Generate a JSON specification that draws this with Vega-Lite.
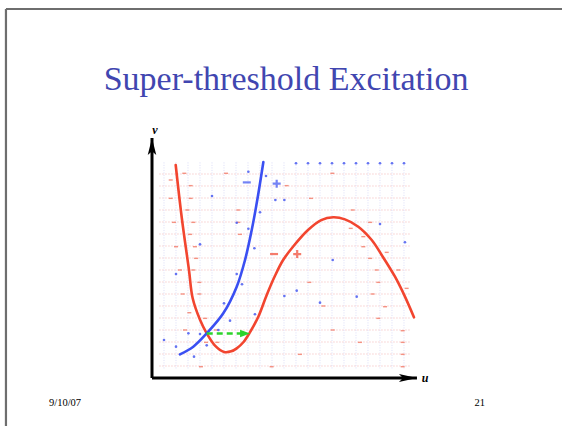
{
  "$schema": "https://vega.github.io/schema/vega-lite/v6.json",
  "width": 562,
  "height": 426,
  "autosize": {"type": "none"},
  "padding": 0,
  "background": "white",
  "config": {"view": {"stroke": null}},
  "datasets": {
    "frame": [
      {"u": -12.17, "v": 30.75, "u2": 34.1667, "v2": 30.75},
      {"u": -12.17, "v": 30.75, "u2": -12.17, "v2": -4}
    ],
    "hgrid": [
      {"v": 1, "u": 0.6, "u2": 21.6}, {"v": 2, "u": 0.6, "u2": 21.6}, {"v": 3, "u": 0.6, "u2": 21.6},
      {"v": 4, "u": 0.6, "u2": 21.6}, {"v": 5, "u": 0.6, "u2": 21.6}, {"v": 6, "u": 0.6, "u2": 21.6},
      {"v": 7, "u": 0.6, "u2": 21.6}, {"v": 8, "u": 0.6, "u2": 21.6}, {"v": 9, "u": 0.6, "u2": 21.6},
      {"v": 10, "u": 0.6, "u2": 21.6}, {"v": 11, "u": 0.6, "u2": 21.6}, {"v": 12, "u": 0.6, "u2": 21.6},
      {"v": 13, "u": 0.6, "u2": 21.6}, {"v": 14, "u": 0.6, "u2": 21.6}, {"v": 15, "u": 0.6, "u2": 21.6},
      {"v": 16, "u": 0.6, "u2": 21.6}, {"v": 17, "u": 0.6, "u2": 21.6}
    ],
    "vgrid": [
      {"u": 1, "v": 0.8, "v2": 18}, {"u": 2, "v": 0.8, "v2": 18}, {"u": 3, "v": 0.8, "v2": 18},
      {"u": 4, "v": 0.8, "v2": 18}, {"u": 5, "v": 0.8, "v2": 18}, {"u": 6, "v": 0.8, "v2": 18},
      {"u": 7, "v": 0.8, "v2": 18}, {"u": 8, "v": 0.8, "v2": 18}, {"u": 9, "v": 0.8, "v2": 18},
      {"u": 10, "v": 0.8, "v2": 18}, {"u": 11, "v": 0.8, "v2": 18}, {"u": 12, "v": 0.8, "v2": 18},
      {"u": 13, "v": 0.8, "v2": 18}, {"u": 14, "v": 0.8, "v2": 18}, {"u": 15, "v": 0.8, "v2": 18},
      {"u": 16, "v": 0.8, "v2": 18}, {"u": 17, "v": 0.8, "v2": 18}, {"u": 18, "v": 0.8, "v2": 18},
      {"u": 19, "v": 0.8, "v2": 18}, {"u": 20, "v": 0.8, "v2": 18}, {"u": 21, "v": 0.8, "v2": 18}
    ],
    "fieldU": [
      {"u": 2.69, "v": 17.06}, {"u": 6.17, "v": 17.06}, {"u": 15.03, "v": 17.06}, {"u": 1.56, "v": 16.5},
      {"u": 3.22, "v": 16.03}, {"u": 11.22, "v": 16.03}, {"u": 1.56, "v": 14.97}, {"u": 3.22, "v": 14.97},
      {"u": 13.25, "v": 14.97}, {"u": 2.94, "v": 14.0}, {"u": 7.19, "v": 14.0}, {"u": 16.72, "v": 14.0},
      {"u": 1.83, "v": 12.97}, {"u": 3.44, "v": 12.97}, {"u": 7.19, "v": 12.97}, {"u": 18.17, "v": 12.97},
      {"u": 3.17, "v": 11.97}, {"u": 7.33, "v": 11.97}, {"u": 16.56, "v": 12.47}, {"u": 2.0, "v": 10.94},
      {"u": 3.58, "v": 10.94}, {"u": 17.61, "v": 11.78}, {"u": 17.61, "v": 10.94}, {"u": 3.67, "v": 9.97},
      {"u": 18.17, "v": 9.97}, {"u": 19.56, "v": 10.47}, {"u": 2.33, "v": 9.0}, {"u": 3.44, "v": 9.0},
      {"u": 3.94, "v": 7.97}, {"u": 13.11, "v": 7.97}, {"u": 18.72, "v": 9.0}, {"u": 20.53, "v": 9.0},
      {"u": 2.56, "v": 7.0}, {"u": 3.94, "v": 7.0}, {"u": 18.39, "v": 7.0}, {"u": 18.86, "v": 7.97},
      {"u": 21.22, "v": 7.47}, {"u": 3.11, "v": 5.44}, {"u": 14.28, "v": 6.0}, {"u": 19.42, "v": 5.94},
      {"u": 18.86, "v": 4.97}, {"u": 4.42, "v": 4.97}, {"u": 15.06, "v": 4.0}, {"u": 20.89, "v": 3.94},
      {"u": 2.75, "v": 4.0}, {"u": 5.33, "v": 4.0}, {"u": 17.33, "v": 2.97}, {"u": 20.89, "v": 2.97},
      {"u": 4.5, "v": 2.97}, {"u": 12.33, "v": 1.97}, {"u": 20.89, "v": 1.97}, {"u": 4.08, "v": 0.94},
      {"u": 9.97, "v": 0.94}, {"u": 20.89, "v": 0.94}, {"u": 5.44, "v": 2.97}
    ],
    "fieldV": [
      {"u": 8.03, "v": 17.19}, {"u": 9.5, "v": 16.83}, {"u": 5.0, "v": 15.17}, {"u": 10.28, "v": 14.83},
      {"u": 11.03, "v": 14.83}, {"u": 9.0, "v": 13.81}, {"u": 7.06, "v": 12.94}, {"u": 8.03, "v": 12.44},
      {"u": 19.0, "v": 12.83}, {"u": 4.0, "v": 11.14}, {"u": 8.53, "v": 10.81}, {"u": 21.08, "v": 11.31},
      {"u": 15.06, "v": 9.83}, {"u": 2.0, "v": 8.67}, {"u": 7.06, "v": 8.67}, {"u": 7.5, "v": 7.81},
      {"u": 12.06, "v": 7.28}, {"u": 11.03, "v": 6.83}, {"u": 17.06, "v": 6.78}, {"u": 14.0, "v": 6.28},
      {"u": 6.0, "v": 6.22}, {"u": 6.5, "v": 4.78}, {"u": 8.58, "v": 5.31}, {"u": 3.03, "v": 3.72},
      {"u": 4.0, "v": 3.67}, {"u": 5.53, "v": 4.0}, {"u": 1.0, "v": 3.17}, {"u": 2.0, "v": 2.61},
      {"u": 4.56, "v": 2.72}, {"u": 3.5, "v": 1.78},
      {"u": 12, "v": 17.9}, {"u": 13, "v": 17.9}, {"u": 14, "v": 17.9}, {"u": 15, "v": 17.9},
      {"u": 16, "v": 17.9}, {"u": 17, "v": 17.9}, {"u": 18, "v": 17.9}, {"u": 19, "v": 17.9},
      {"u": 20, "v": 17.9}, {"u": 21, "v": 17.9}
    ],
    "nullclines": [
      {"curve": "cubic", "u": 1.975, "v": 17.75}, {"curve": "cubic", "u": 2.47, "v": 13.44},
      {"curve": "cubic", "u": 3.08, "v": 9.0}, {"curve": "cubic", "u": 3.39, "v": 6.64},
      {"curve": "cubic", "u": 4.0, "v": 4.85}, {"curve": "cubic", "u": 4.56, "v": 3.72},
      {"curve": "cubic", "u": 5.25, "v": 2.7}, {"curve": "cubic", "u": 6.0, "v": 2.17},
      {"curve": "cubic", "u": 6.6, "v": 2.22}, {"curve": "cubic", "u": 7.06, "v": 2.47},
      {"curve": "cubic", "u": 7.61, "v": 2.98}, {"curve": "cubic", "u": 8.11, "v": 3.72},
      {"curve": "cubic", "u": 8.86, "v": 5.11}, {"curve": "cubic", "u": 9.56, "v": 6.92},
      {"curve": "cubic", "u": 10.25, "v": 8.52}, {"curve": "cubic", "u": 10.94, "v": 9.85},
      {"curve": "cubic", "u": 11.8, "v": 11.0}, {"curve": "cubic", "u": 13.0, "v": 12.33},
      {"curve": "cubic", "u": 14.1, "v": 13.16}, {"curve": "cubic", "u": 15.11, "v": 13.39},
      {"curve": "cubic", "u": 16.08, "v": 13.22}, {"curve": "cubic", "u": 17.19, "v": 12.61},
      {"curve": "cubic", "u": 18.31, "v": 11.5}, {"curve": "cubic", "u": 19.14, "v": 10.25},
      {"curve": "cubic", "u": 20.25, "v": 8.44}, {"curve": "cubic", "u": 21.08, "v": 6.78},
      {"curve": "cubic", "u": 21.83, "v": 5.06},
      {"curve": "recovery", "u": 2.33, "v": 1.97}, {"curve": "recovery", "u": 3.44, "v": 2.61},
      {"curve": "recovery", "u": 4.56, "v": 3.72}, {"curve": "recovery", "u": 5.94, "v": 5.39},
      {"curve": "recovery", "u": 7.06, "v": 7.61}, {"curve": "recovery", "u": 7.75, "v": 9.83},
      {"curve": "recovery", "u": 8.31, "v": 12.33}, {"curve": "recovery", "u": 8.8, "v": 15.0},
      {"curve": "recovery", "u": 9.28, "v": 18.0}
    ],
    "signs": [
      {"curve": "recovery", "sign": "minus", "u": 7.9, "v": 16.3},
      {"curve": "recovery", "sign": "plus", "u": 10.39, "v": 16.19},
      {"curve": "cubic", "sign": "minus", "u": 10.17, "v": 10.33},
      {"curve": "cubic", "sign": "plus", "u": 12.1, "v": 10.33}
    ],
    "axes": [
      {"axis": "u", "u": 0, "v": 0, "u2": 22.08, "v2": 0, "name": "u", "lu": 22.75, "lv": -0.35},
      {"axis": "v", "u": 0, "v": 0, "u2": 0, "v2": 20.0, "name": "v", "lu": 0.25, "lv": 20.3}
    ],
    "jump": [
      {"u": 4.56, "v": 3.71, "u2": 7.5, "tipU": 8.17}
    ],
    "slideText": [
      {"part": "title", "text": "Super-threshold Excitation", "u": 11.17, "v": 24.0},
      {"part": "date", "text": "9/10/07", "u": -8.58, "v": -2.33},
      {"part": "page", "text": "21", "u": 27.75, "v": -2.33}
    ]
  },
  "layer": [
    {
      "data": {"name": "frame"},
      "mark": {"type": "rule", "color": "#6e6e6e", "strokeWidth": 2.2},
      "encoding": {
        "x": {"field": "u", "type": "quantitative", "scale": {"domain": [-12.6667, 34.1667], "nice": false, "zero": false}, "axis": null},
        "x2": {"field": "u2"},
        "y": {"field": "v", "type": "quantitative", "scale": {"domain": [-4, 31.5], "nice": false, "zero": false}, "axis": null},
        "y2": {"field": "v2"}
      }
    },
    {
      "data": {"name": "hgrid"},
      "mark": {"type": "rule", "color": "#f3b9b9", "strokeWidth": 1, "strokeDash": [1.5, 1.5], "opacity": 0.7},
      "encoding": {
        "x": {"field": "u", "type": "quantitative"},
        "x2": {"field": "u2"},
        "y": {"field": "v", "type": "quantitative"}
      }
    },
    {
      "data": {"name": "vgrid"},
      "mark": {"type": "rule", "color": "#cfd2f5", "strokeWidth": 1, "strokeDash": [1, 1.5], "opacity": 0.75},
      "encoding": {
        "x": {"field": "u", "type": "quantitative"},
        "y": {"field": "v", "type": "quantitative"},
        "y2": {"field": "v2"}
      }
    },
    {
      "data": {"name": "fieldU"},
      "mark": {"type": "point", "shape": "stroke", "filled": false, "size": 16, "strokeWidth": 1.4, "color": "#f2735f", "opacity": 0.75},
      "encoding": {
        "x": {"field": "u", "type": "quantitative"},
        "y": {"field": "v", "type": "quantitative"}
      }
    },
    {
      "data": {"name": "fieldV"},
      "mark": {"type": "point", "shape": "circle", "filled": true, "size": 7, "color": "#4a5cf0", "opacity": 0.85},
      "encoding": {
        "x": {"field": "u", "type": "quantitative"},
        "y": {"field": "v", "type": "quantitative"}
      }
    },
    {
      "data": {"name": "nullclines"},
      "mark": {"type": "line", "interpolate": "catmull-rom", "strokeWidth": 2.6, "strokeCap": "round"},
      "encoding": {
        "x": {"field": "u", "type": "quantitative"},
        "y": {"field": "v", "type": "quantitative"},
        "color": {"field": "curve", "type": "nominal", "scale": {"domain": ["cubic", "recovery"], "range": ["#f2452f", "#3a4ff2"]}, "legend": null},
        "order": {"field": "u", "type": "quantitative"}
      }
    },
    {
      "data": {"name": "signs"},
      "transform": [{"filter": "datum.sign === 'minus'"}],
      "mark": {"type": "point", "shape": "M-1,0L1,0", "filled": false, "size": 64, "strokeWidth": 2.2},
      "encoding": {
        "x": {"field": "u", "type": "quantitative"},
        "y": {"field": "v", "type": "quantitative"},
        "color": {"field": "curve", "type": "nominal", "legend": null}
      }
    },
    {
      "data": {"name": "signs"},
      "transform": [{"filter": "datum.sign === 'plus'"}],
      "mark": {"type": "point", "shape": "M-1,0L1,0M0,-1L0,1", "filled": false, "size": 64, "strokeWidth": 2.2},
      "encoding": {
        "x": {"field": "u", "type": "quantitative"},
        "y": {"field": "v", "type": "quantitative"},
        "color": {"field": "curve", "type": "nominal", "legend": null}
      }
    },
    {
      "data": {"name": "jump"},
      "mark": {"type": "rule", "color": "#2bd42b", "strokeWidth": 2.6, "strokeDash": [6, 4]},
      "encoding": {
        "x": {"field": "u", "type": "quantitative"},
        "x2": {"field": "u2"},
        "y": {"field": "v", "type": "quantitative"}
      }
    },
    {
      "data": {"name": "jump"},
      "mark": {"type": "point", "shape": "M0,0L-2,-0.75L-2,0.75Z", "filled": true, "size": 100, "color": "#2bd42b", "opacity": 1},
      "encoding": {
        "x": {"field": "tipU", "type": "quantitative"},
        "y": {"field": "v", "type": "quantitative"}
      }
    },
    {
      "data": {"name": "axes"},
      "mark": {"type": "rule", "color": "black", "strokeWidth": 3},
      "encoding": {
        "x": {"field": "u", "type": "quantitative"},
        "x2": {"field": "u2"},
        "y": {"field": "v", "type": "quantitative"},
        "y2": {"field": "v2"}
      }
    },
    {
      "data": {"name": "axes"},
      "transform": [{"filter": "datum.axis === 'v'"}],
      "mark": {"type": "point", "shape": "M0,0L0.5,2L0,1.55L-0.5,2Z", "filled": true, "size": 289, "color": "black", "opacity": 1},
      "encoding": {
        "x": {"field": "u2", "type": "quantitative"},
        "y": {"field": "v2", "type": "quantitative"}
      }
    },
    {
      "data": {"name": "axes"},
      "transform": [{"filter": "datum.axis === 'u'"}],
      "mark": {"type": "point", "shape": "M0,0L0.45,2L0,1.55L-0.45,2Z", "angle": 90, "filled": true, "size": 324, "color": "black", "opacity": 1},
      "encoding": {
        "x": {"field": "u2", "type": "quantitative"},
        "y": {"field": "v2", "type": "quantitative"}
      }
    },
    {
      "data": {"name": "axes"},
      "mark": {"type": "text", "font": "Liberation Serif", "fontSize": 12, "fontStyle": "italic", "fontWeight": "bold", "align": "center", "baseline": "alphabetic", "color": "black"},
      "encoding": {
        "x": {"field": "lu", "type": "quantitative"},
        "y": {"field": "lv", "type": "quantitative"},
        "text": {"field": "name"}
      }
    },
    {
      "data": {"name": "slideText"},
      "transform": [{"filter": "datum.part === 'title'"}],
      "mark": {"type": "text", "font": "Liberation Serif", "fontSize": 34, "align": "center", "baseline": "alphabetic", "color": "#4146b0"},
      "encoding": {
        "x": {"field": "u", "type": "quantitative"},
        "y": {"field": "v", "type": "quantitative"},
        "text": {"field": "text"}
      }
    },
    {
      "data": {"name": "slideText"},
      "transform": [{"filter": "datum.part === 'date'"}],
      "mark": {"type": "text", "font": "Liberation Serif", "fontSize": 10.5, "align": "left", "baseline": "alphabetic", "color": "black"},
      "encoding": {
        "x": {"field": "u", "type": "quantitative"},
        "y": {"field": "v", "type": "quantitative"},
        "text": {"field": "text"}
      }
    },
    {
      "data": {"name": "slideText"},
      "transform": [{"filter": "datum.part === 'page'"}],
      "mark": {"type": "text", "font": "Liberation Serif", "fontSize": 10.5, "align": "right", "baseline": "alphabetic", "color": "black"},
      "encoding": {
        "x": {"field": "u", "type": "quantitative"},
        "y": {"field": "v", "type": "quantitative"},
        "text": {"field": "text"}
      }
    }
  ]
}
